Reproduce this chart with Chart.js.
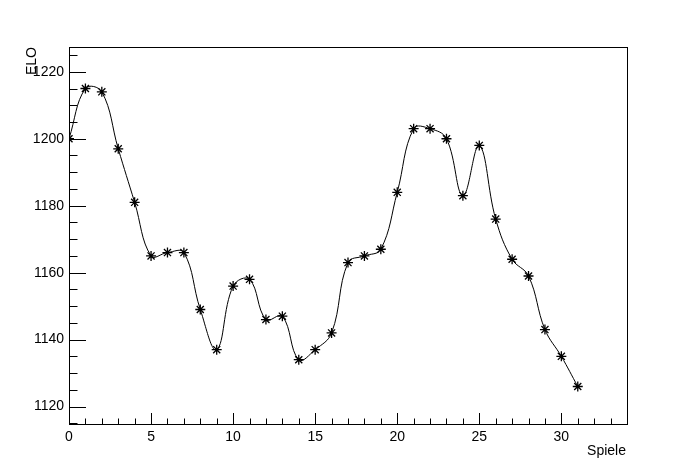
<!DOCTYPE html>
<html>
<head>
<meta charset="utf-8">
<script src="https://cdn.jsdelivr.net/npm/chart.js@4/dist/chart.umd.min.js"></script>
<style>
  html, body { margin: 0; padding: 0; background: #fff; }
  #wrap { width: 696px; height: 472px; }
</style>
</head>
<body>
<div id="wrap"><canvas id="elochart"></canvas></div>
<script>
const games = [0, 1, 2, 3, 4, 5, 6, 7, 8, 9, 10, 11, 12, 13, 14, 15, 16, 17, 18, 19, 20, 21, 22, 23, 24, 25, 26, 27, 28, 29, 30, 31]
const elo = [1200, 1215, 1214, 1197, 1181, 1165, 1166, 1166, 1149, 1137, 1156, 1158, 1146, 1147, 1134, 1137,
  1142, 1163, 1165, 1167, 1184, 1203, 1203, 1200, 1183, 1198, 1176, 1164, 1159, 1143, 1135, 1126]
const xTicks = [0, 5, 10, 15, 20, 25, 30]
const yTicks = [1120, 1140, 1160, 1180, 1200, 1220]
const xTitle = 'Spiele'
const yTitle = 'ELO'

const FONT = '"Liberation Sans", Arial, sans-serif'

// ROOT style frame with ticks drawn inward
const frameTicks = {
  id: 'frameTicks',
  afterDraw(chart) {
    const c = chart.ctx
    const a = chart.chartArea
    const xs = chart.scales.x, ys = chart.scales.y
    c.save()
    c.strokeStyle = '#000'
    c.lineWidth = 1
    c.strokeRect(Math.round(a.left) + 0.5, Math.round(a.top) + 0.5,
      Math.round(a.right - a.left), Math.round(a.bottom - a.top))
    c.beginPath()
    // x ticks: major every 5, minor every 1
    for (let v = Math.ceil(xs.min); v <= xs.max; v++) {
      const px = Math.round(xs.getPixelForValue(v)) + 0.5
      const len = (v % 5 === 0) ? 11 : 5.5
      c.moveTo(px, a.bottom)
      c.lineTo(px, a.bottom - len)
    }
    // y ticks: major every 20, minor every 5
    for (let v = Math.ceil(ys.min / 5) * 5; v <= ys.max; v += 5) {
      const py = Math.round(ys.getPixelForValue(v)) + 0.5
      const len = (v % 20 === 0) ? 17 : 8.5
      c.moveTo(a.left, py)
      c.lineTo(a.left + len, py)
    }
    c.stroke()
    c.fillStyle = '#000'
    c.font = '14px ' + FONT
    c.textAlign = 'right'
    c.textBaseline = 'middle'
    c.fillText(xTitle, a.right - 1, 451)
    c.translate(32, a.top)
    c.rotate(-Math.PI / 2)
    c.textAlign = 'right'
    c.fillText(yTitle, 0, 0)
    c.restore()
  }
}

const elochart = new Chart(document.getElementById('elochart'), {
  type: 'line',
  data: {
    labels: games,
    datasets: [{
      data: games.map((g, i) => ({ x: g, y: elo[i] })),
      borderColor: '#000',
      borderWidth: 1,
      backgroundColor: '#000',
      tension: 0.4,
      pointStyle: 'star',
      pointRadius: 5,
      pointBorderWidth: 1.3,
      pointBorderColor: '#000',
      fill: false
    }]
  },
  options: {
    responsive: true,
    maintainAspectRatio: false,
    animation: false,
    layout: { padding: { top: 47, right: 69, left: 0, bottom: 0 } },
    plugins: {
      legend: { display: false },
      tooltip: { enabled: false }
    },
    scales: {
      x: {
        type: 'linear',
        min: 0,
        max: 34,
        afterFit: s => { s.height = 48 },
        afterBuildTicks: s => { s.ticks = xTicks.map(v => ({ value: v })) },
        grid: { display: false, drawTicks: false },
        border: { display: false },
        ticks: {
          color: '#000',
          padding: 5,
          maxRotation: 0,
          callback: v => String(v),
          font: { family: FONT, size: 14 }
        }
      },
      y: {
        min: 1114.8,
        max: 1227.4,
        afterFit: s => { s.width = 69 },
        afterBuildTicks: s => { s.ticks = yTicks.map(v => ({ value: v })) },
        grid: { display: false, drawTicks: false },
        border: { display: false },
        ticks: {
          color: '#000',
          padding: 5,
          callback: v => String(v),
          font: { family: FONT, size: 14 }
        }
      }
    }
  },
  plugins: [frameTicks]
})
</script>
</body>
</html>
